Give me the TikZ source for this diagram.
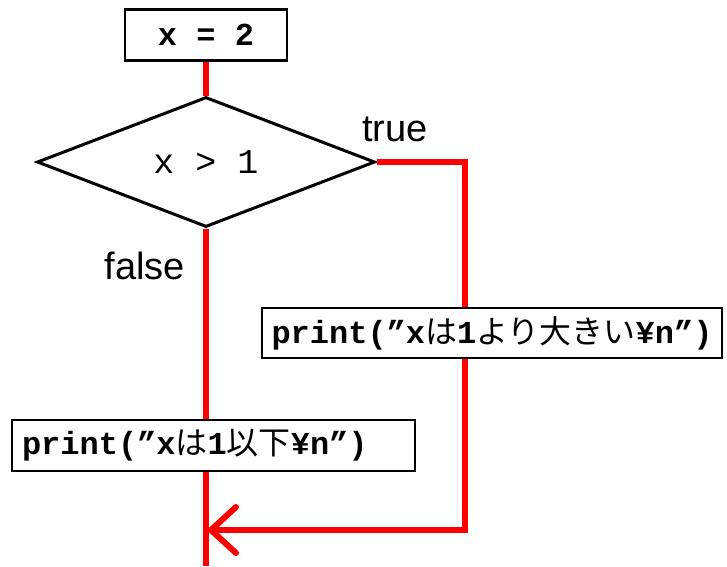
\documentclass[tikz,border=0pt]{standalone}
\usepackage{fontspec}
\usepackage{tikz}
\usetikzlibrary{shapes.geometric,arrows.meta}
\setsansfont{Liberation Sans}
\newfontfamily\codefont{Liberation Mono}
\newfontfamily\jpfont{Noto Sans CJK JP}
\newcommand{\jp}[1]{{\jpfont\mdseries #1}}

\begin{document}
\begin{tikzpicture}[x=1pt, y=-1pt,
  box/.style={rectangle, draw, line width=2.5pt, fill=white, inner sep=0pt,
    font=\fontsize{32}{38}\selectfont\codefont\bfseries},
  cond/.style={diamond, draw, line width=3pt, fill=white, inner sep=0pt,
    minimum width=338pt, minimum height=130pt,
    font=\fontsize{35}{40}\selectfont\codefont},
  flow/.style={draw=red, line width=6pt},
  lbl/.style={font=\fontsize{38}{44}\selectfont\sffamily}]
  \useasboundingbox (0,0) rectangle (727,566);

  \node (init) [box, minimum width=162pt, minimum height=51pt] at (206,35) {x = 2};
  \node (test) [cond] at (206,162) {x > 1};
  \node (yes) [box, minimum width=460pt, minimum height=50pt] at (492,333)
    {print(”x\jp{は}1\jp{より大きい}¥n”)};
  \node (no) [box, minimum width=403pt, minimum height=51pt, text width=383pt, align=left] at (213.5,445.5)
    {print(”x\jp{は}1\jp{以下}¥n”)};

  \node (true) [lbl] at (395,129) {true};
  \node (false) [lbl] at (145,266) {false};

  \coordinate (turn) at (465,162);
  \coordinate (back) at (465,530);
  \coordinate (merge) at (208,530);
  \coordinate (end) at (206,566);

  \draw [flow] (init.south) -- (test.north);
  \draw [flow] (test.east) -- (turn) -- (turn |- yes.north);
  \draw [flow] (turn |- yes.south) -- (back)
    -- (merge) [arrows={-Straight Barb[length=25pt, width=46pt, round]}];
  \draw [flow] (test.south) -- (test.south |- no.north);
  \draw [flow] (test.south |- no.south) -- (end);
\end{tikzpicture}
\end{document}
